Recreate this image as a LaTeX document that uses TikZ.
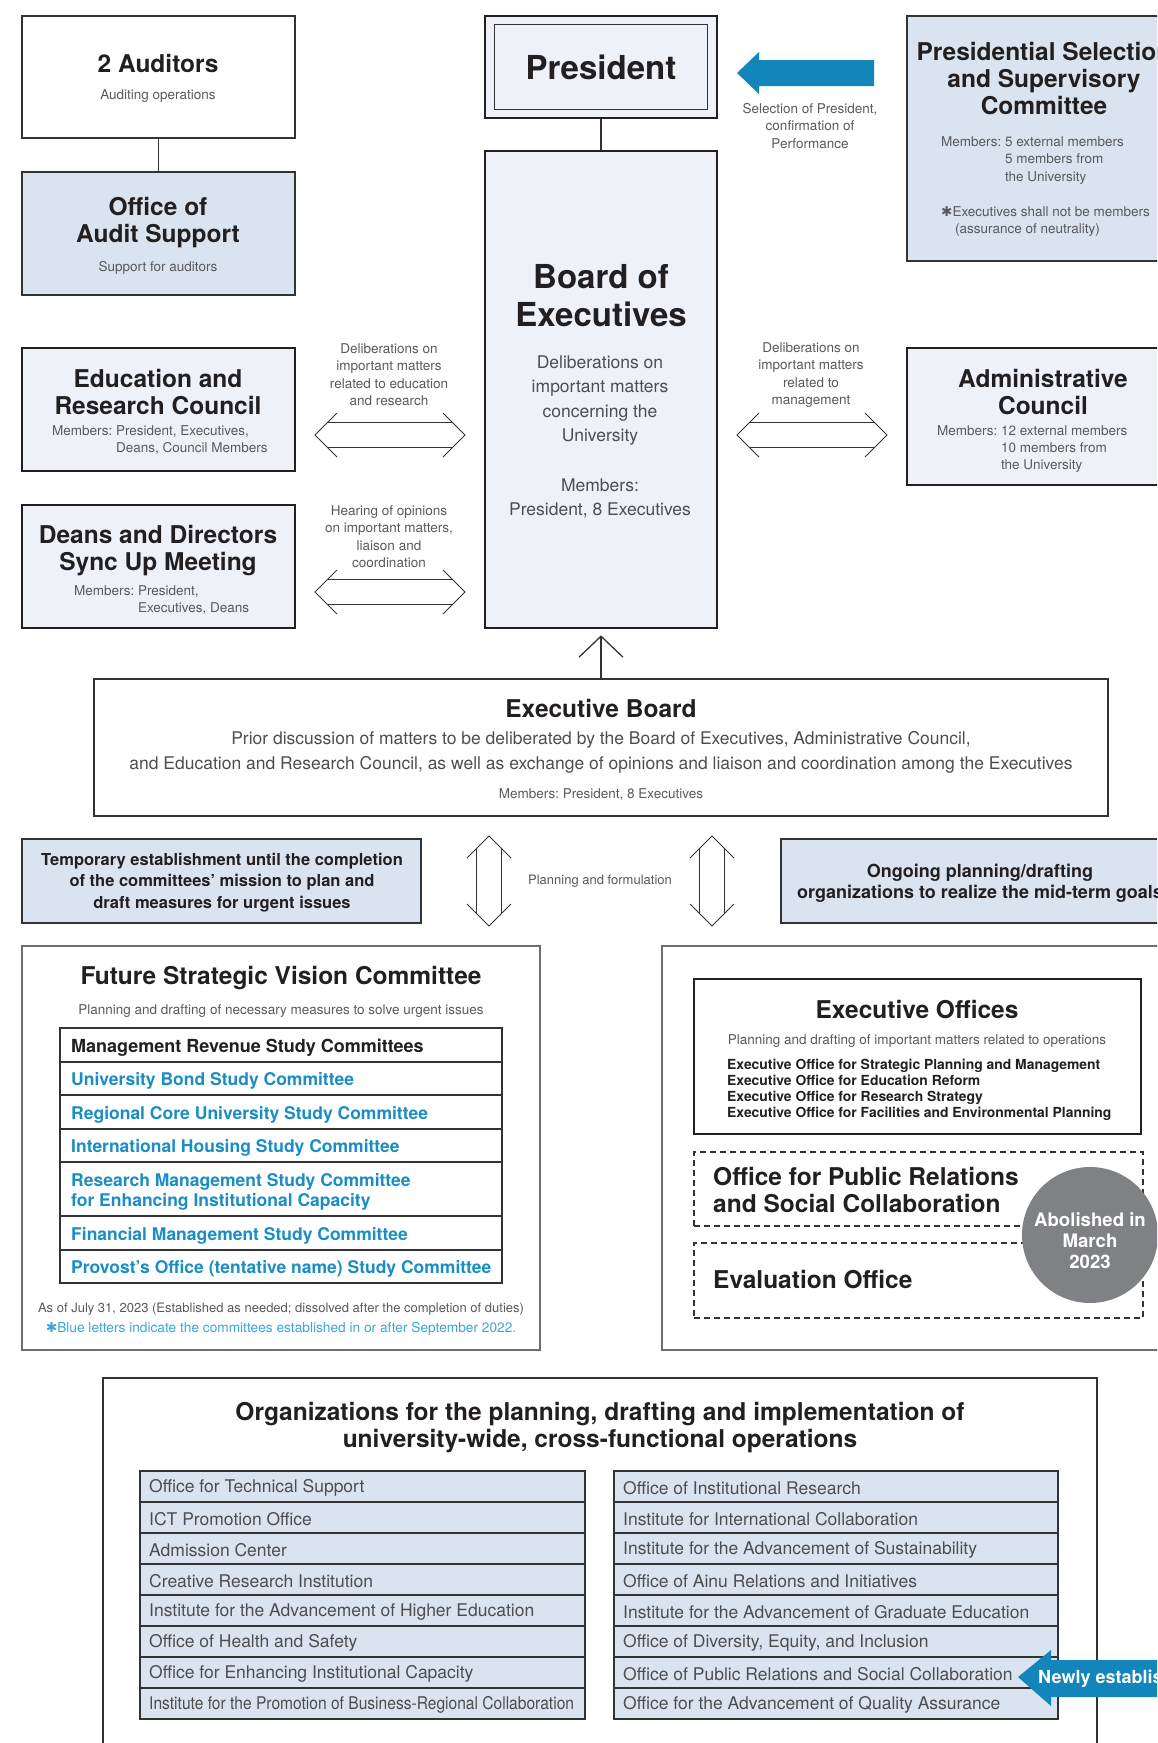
\documentclass[tikz,border=0pt]{standalone}
\usepackage{graphicx}
\usepackage{fontspec}
\setmainfont{TeX Gyre Heros}
\newfontfamily\symfont{DejaVu Sans}
\usetikzlibrary{arrows.meta,calc,fit}
\frenchspacing

\definecolor{ink}{HTML}{231F20}
\definecolor{greyt}{HTML}{58595B}
\definecolor{bodyt}{HTML}{4D4D4F}
\definecolor{linec}{HTML}{333333}
\definecolor{greyline}{HTML}{6D6E71}
\definecolor{palebg}{HTML}{EEF2F8}
\definecolor{bluebg}{HTML}{D9E4F0}
\definecolor{bluetxt}{HTML}{1A8DC4}
\definecolor{notetxt}{HTML}{3AA6DA}
\definecolor{arrowblue}{HTML}{1285BB}
\definecolor{circgrey}{HTML}{808184}

\newcommand{\fs}[2]{\fontsize{#1}{#2}\selectfont}

\tikzset{
  box/.style={draw=linec, line width=1.3pt, inner sep=0pt},
  heavybox/.style={draw=ink, line width=2.6pt, inner sep=0pt},
  dashbox/.style={draw=linec, line width=1.2pt, dash pattern=on 6pt off 4pt, inner sep=0pt},
  link/.style={draw=linec, line width=1.3pt},
  ttl/.style={font=\bfseries\fs{24.5}{27}, text=ink, align=center, inner sep=0pt},
  bigttl/.style={font=\bfseries\fs{33}{38}, text=ink, align=center, inner sep=0pt},
  body/.style={font=\fs{17.5}{24.3}, text=bodyt, align=center, inner sep=0pt},
  sml/.style={font=\fs{13.5}{17.4}, text=greyt, align=center, inner sep=0pt},
  bld/.style={font=\bfseries\fs{17}{21.5}, text=ink, align=center, inner sep=0pt},
  row/.style={font=\bfseries\fs{17.5}{19.5}, text=bluetxt, align=left, inner sep=0pt, anchor=west},
  orgrow/.style={font=\fs{17.5}{20}, text=bodyt, inner sep=0pt, anchor=west},
  dblshaft/.style={draw=linec, line width=1pt, double=white, double distance=24pt},
  chev/.style={draw=linec, line width=1pt},
}

\newcommand{\dblarrow}[2]{%
  \draw[dblshaft] ($(#1)!12.5pt!(#2)$) -- ($(#2)!12.5pt!(#1)$);
  \draw[chev] ($(#1)!22pt!(#2)!22pt!90:(#1)$) -- (#1) -- ($(#1)!22pt!(#2)!22pt!-90:(#1)$);
  \draw[chev] ($(#2)!22pt!(#1)!22pt!90:(#2)$) -- (#2) -- ($(#2)!22pt!(#1)!22pt!-90:(#2)$);
}

\begin{document}
\begin{tikzpicture}[x=1pt, y=-1pt]
  \useasboundingbox (0,0) rectangle (1157,1743);
  \clip (0,0) rectangle (1157,1743);

  \node[box, fit={(22,16) (295,138)}] (aud) {};
  \node[ttl] at (158,63) {2 Auditors};
  \node[sml] at (158,96.5) {Auditing operations};
  \node[box, fill=bluebg, fit={(22,172) (295,295)}] (audsup) {};
  \node[ttl] at (158,223) {Office of\\Audit Support};
  \node[sml] at (158,268) {Support for auditors};
  \draw[link] (aud) -- (audsup);

  \node[heavybox, fill=palebg, fit={(485,16) (717,118)}] (pres) {};
  \draw[link] ([shift={(11,10)}]pres.north west) rectangle ([shift={(-11,-10)}]pres.south east);
  \node[bigttl] at (601,67) {President};
  \node[heavybox, fill=palebg, fit={(485,151) (717,628)}] (board) {};
  \node[bigttl] at (601,295.5) {Board of\\Executives};
  \node[body] at (600,400.5) {Deliberations on\\important matters\\concerning the\\University};
  \node[body] at (600,498.5) {Members:\\President, 8 Executives};
  \draw[link] (pres) -- (board);

  \node[box, fill=bluebg, fit={(907,16) (1180,261)}] (psc) {};
  \node[ttl] at (1044,79) {Presidential Selection\\and Supervisory\\Committee};
  \node[sml, align=left, anchor=west] at (941,186.5) {Members: 5 external members\\\hphantom{Members: }5 members from\\\hphantom{Members: }the University\\[17.4pt]{\symfont ✱}Executives shall not be members\\\hspace*{14pt}(assurance of neutrality)};
  \coordinate (seltip) at (737,73);
  \fill[arrowblue] (seltip) -- ++(22,-21) -- ++(0,8) -- ++(115,0) -- ++(0,26) -- ++(-115,0) -- ++(0,8) -- cycle;
  \node[sml] at (810,126) {Selection of President,\\confirmation of\\Performance};

  \node[heavybox, fill=palebg, fit={(22,348) (295,471)}] (erc) {};
  \node[ttl] at (158,392) {Education and\\Research Council};
  \node[sml, align=left, anchor=west] at (52,440) {Members: President, Executives,\\\hphantom{Members: }Deans, Council Members};
  \node[heavybox, fill=palebg, fit={(22,505) (295,628)}] (ddm) {};
  \node[ttl] at (158,551) {Deans and Directors\\Sync Up Meeting};
  \node[sml, align=left, anchor=west] at (74,600) {Members: President,\\\hphantom{Members: }Executives, Deans};
  \node[heavybox, fill=palebg, fit={(907,348) (1180,485)}] (adm) {};
  \node[ttl] at (1043,392) {Administrative\\Council};
  \node[sml, align=left, anchor=west] at (937,449) {Members: 12 external members\\\hphantom{Members: }10 members from\\\hphantom{Members: }the University};

  \coordinate (edua) at (315,435);
  \coordinate (edub) at (465,435);
  \coordinate (ddma) at (315,592);
  \coordinate (ddmb) at (465,592);
  \coordinate (adma) at (737,435);
  \coordinate (admb) at (887,435);
  \dblarrow{edua}{edub}
  \dblarrow{ddma}{ddmb}
  \dblarrow{adma}{admb}
  \node[sml] at (389,374.5) {Deliberations on\\important matters\\related to education\\and research};
  \node[sml] at (389,536.5) {Hearing of opinions\\on important matters,\\liaison and\\coordination};
  \node[sml] at (811,375) {Deliberations on\\important matters\\related to\\management};

  \node[box, fit={(94,679) (1108,816)}] (eboard) {};
  \node[ttl] at (601,708.5) {Executive Board};
  \node[body] at (601,752.5) {Prior discussion of matters to be deliberated by the Board of Executives, Administrative Council,\\and Education and Research Council, as well as exchange of opinions and liaison and coordination among the Executives};
  \node[sml] at (601,795) {Members: President, 8 Executives};
  \draw[link, -{Straight Barb[length=21pt, width=44pt]}, shorten >=6pt] (eboard) -- (board);

  \node[box, fill=bluebg, fit={(22,839) (421,923)}] (temp) {};
  \node[bld, font=\bfseries\fs{16.5}{21.5}] at (222,882.5) {Temporary establishment until the completion\\of the committees’ mission to plan and\\draft measures for urgent issues};
  \node[box, fill=bluebg, fit={(781,839) (1180,923)}] (ongo) {};
  \node[bld, font=\bfseries\fs{18}{21.5}] at (980,883) {Ongoing planning/drafting\\organizations to realize the mid-term goals};
  \coordinate (plna) at (489,836);
  \coordinate (plnb) at (489,926);
  \coordinate (plnc) at (712,836);
  \coordinate (plnd) at (712,926);
  \dblarrow{plna}{plnb}
  \dblarrow{plnc}{plnd}
  \node[sml, font=\fs{13}{16}] at (600,881.5) {Planning and formulation};

  \node[box, draw=greyline, fit={(22,946) (540,1350)}] (fsvc) {};
  \node[ttl] at (281,978) {Future Strategic Vision Committee};
  \node[sml] at (281,1011) {Planning and drafting of necessary measures to solve urgent issues};
  \node[box, fit={(60,1028) (502,1283)}] (tab) {};
  \foreach \y in {1062,1095,1129,1162,1216,1250}
    \draw[link] (tab.west |- 0,\y) -- (tab.east |- 0,\y);
  \node[row, text=ink, font=\bfseries\fs{18}{19.5}] at (71,1047.5) {Management Revenue Study Committees};
  \node[row] at (71,1081) {University Bond Study Committee};
  \node[row] at (71,1114.5) {Regional Core University Study Committee};
  \node[row] at (71,1148) {International Housing Study Committee};
  \node[row] at (71,1192) {Research Management Study Committee\\for Enhancing Institutional Capacity};
  \node[row] at (71,1235.5) {Financial Management Study Committee};
  \node[row] at (71,1269) {Provost’s Office (tentative name) Study Committee};
  \node[sml, font=\fs{13}{16}] at (281,1309.5) {As of July 31, 2023 (Established as needed; dissolved after the completion of duties)};
  \node[sml, font=\fs{13.7}{16}, text=notetxt] at (281,1328.5) {{\symfont ✱}Blue letters indicate the committees established in or after September 2022.};

  \node[box, draw=greyline, fit={(662,946) (1180,1350)}] (rbox) {};
  \node[heavybox, fill=white, fit={(694,979) (1141,1134)}] (eoff) {};
  \node[ttl] at (917,1010) {Executive Offices};
  \node[sml] at (917,1041) {Planning and drafting of important matters related to operations};
  \node[font=\bfseries\fs{13.9}{16}, text=ink, align=left, anchor=west, inner sep=0pt] at (727,1090) {Executive Office for Strategic Planning and Management\\Executive Office for Education Reform\\Executive Office for Research Strategy\\Executive Office for Facilities and Environmental Planning};
  \node[dashbox, fit={(694,1152) (1143,1226)}] (pr) {};
  \node[ttl, align=left, anchor=west] at (713,1190) {Office for Public Relations\\and Social Collaboration};
  \node[dashbox, fit={(694,1243) (1143,1318)}] (evo) {};
  \node[ttl, anchor=west] at (713,1280) {Evaluation Office};
  \node[circle, fill=circgrey, minimum size=136pt, inner sep=0pt] (abol) at (1090,1235) {};
  \node[font=\bfseries\fs{18.6}{21}, text=white, align=center, inner sep=0pt] at (1090,1241) {Abolished in\\March\\2023};

  \node[box, fit={(103,1378) (1097,1760)}] (orgs) {};
  \node[ttl] at (600,1427.5) {Organizations for the planning, drafting and implementation of\\university-wide, cross-functional operations};
  \foreach \t [count=\i from 0] in {Office for Technical Support, ICT Promotion Office, Admission Center, Creative Research Institution, Institute for the Advancement of Higher Education, Office of Health and Safety, Office for Enhancing Institutional Capacity, {\scalebox{0.89}[1]{Institute for the Promotion of Business-Regional Collaboration}}} {
    \node[box, fill=bluebg, fit={(140,{1471+31*\i}) (585,{1502+31*\i})}] (orgl\i) {};
    \node[orgrow] at (149,{1488+31*\i}) {\t};
  }
  \foreach \t [count=\i from 0] in {Office of Institutional Research, Institute for International Collaboration, Institute for the Advancement of Sustainability, Office of Ainu Relations and Initiatives, Institute for the Advancement of Graduate Education, {Office of Diversity, Equity, and Inclusion}, Office of Public Relations and Social Collaboration, Office for the Advancement of Quality Assurance} {
    \node[box, fill=bluebg, fit={(614,{1471+31*\i}) (1058,{1502+31*\i})}] (orgr\i) {};
    \node[orgrow] at (623,{1488+31*\i}) {\t};
  }
  \coordinate (newtip) at (1018,1677);
  \fill[arrowblue] (newtip) -- ++(33,-27) -- ++(0,10) -- ++(160,0) -- ++(0,37) -- ++(-160,0) -- ++(0,9) -- cycle;
  \node[font=\bfseries\fs{18}{20}, text=white, anchor=west, inner sep=0pt] at (1038,1679) {Newly established};
\end{tikzpicture}
\end{document}
